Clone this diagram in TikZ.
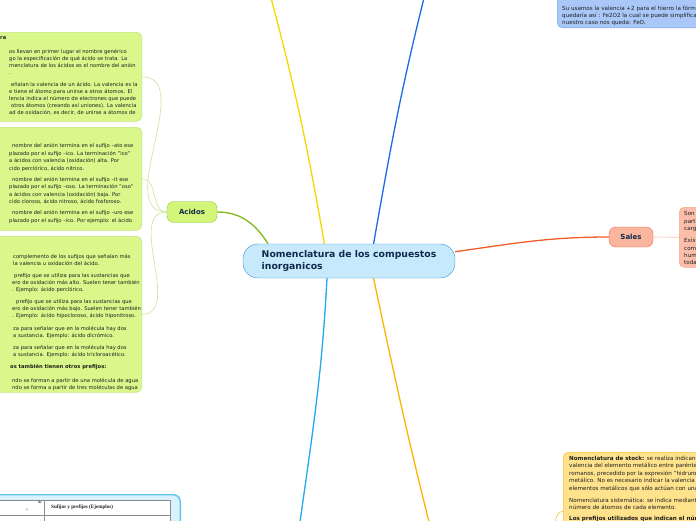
\documentclass[tikz,border=0pt]{standalone}
\usepackage{fontspec}
\setmainfont{DejaVu Sans}
\newfontfamily\tabfont{Liberation Serif}
\usetikzlibrary{positioning,backgrounds,calc}

\begin{document}
\begin{tikzpicture}[x=1pt,y=1pt,line join=round,
  topic/.style={draw,rounded corners=7pt,inner sep=0pt,text=navyc,font=\fontsize{7}{8}\selectfont\bfseries},
  note/.style={draw,rounded corners=5pt,inner sep=0pt,line width=0.6pt},
  body/.style={anchor=base west,inner sep=0pt,text=txtc,font=\fontsize{5.2}{6}\selectfont},
  rbody/.style={body,font=\fontsize{5.6}{6}\selectfont},
  wire/.style={line width=1.3pt},
  twig/.style={line width=0.6pt}]
\definecolor{cntfill}{RGB}{198,234,252}\definecolor{cntline}{RGB}{60,145,214}
\definecolor{acfill}{RGB}{210,245,122}\definecolor{acline}{RGB}{142,198,63}
\definecolor{grfill}{RGB}{217,247,138}\definecolor{grline}{RGB}{196,231,124}
\definecolor{acwire}{RGB}{128,185,24}\definecolor{grtwig}{RGB}{200,227,154}
\definecolor{safill}{RGB}{249,181,157}\definecolor{saline}{RGB}{239,108,72}
\definecolor{sawire}{RGB}{241,90,41}
\definecolor{slfill}{RGB}{251,191,169}\definecolor{slline}{RGB}{247,166,140}
\definecolor{upyel}{RGB}{244,216,0}\definecolor{upblue}{RGB}{29,106,229}
\definecolor{dncyan}{RGB}{34,168,236}\definecolor{dnamber}{RGB}{255,179,0}
\definecolor{blfill}{RGB}{169,200,247}\definecolor{blline}{RGB}{126,169,239}
\definecolor{amfill}{RGB}{255,226,140}\definecolor{amline}{RGB}{249,194,60}
\definecolor{tbfill}{RGB}{217,242,253}\definecolor{tbline}{RGB}{94,196,242}
\definecolor{navyc}{RGB}{16,42,76}\definecolor{txtc}{RGB}{30,30,30}
\useasboundingbox (0,0) rectangle (696,-520);
\clip (0,0) rectangle (696,-520);
% central topic, the two branch topics
\node[topic,fill=cntfill,draw=cntline,minimum width=212pt,minimum height=34pt,rounded corners=15pt,
  align=left,font=\fontsize{9.3}{11.6}\selectfont\bfseries] (cnt) at (349,-261)
  {Nomenclatura de los compuestos\\inorganicos};
\node[topic,fill=acfill,draw=acline,minimum width=50pt,minimum height=21pt] (acidos) at (192,-212) {Acidos};
\node[topic,fill=safill,draw=saline,minimum width=44pt,minimum height=20pt] (sales) at (631,-237) {Sales};
% notes, cut by the page edge
\node[note,fill=grfill,draw=grline,anchor=north east,minimum width=180pt,minimum height=89pt] (acA) at (142,-32) {};
\node[note,fill=grfill,draw=grline,anchor=north east,minimum width=180pt,minimum height=103pt] (acB) at (142,-127) {};
\node[note,fill=grfill,draw=grline,anchor=north east,minimum width=180pt,minimum height=156pt] (acC) at (142,-236) {};
\node[note,fill=slfill,draw=slline,anchor=north west,minimum width=60pt,minimum height=60pt] (salT) at (679,-207) {};
\node[note,fill=blfill,draw=blline,anchor=south west,minimum width=200pt,minimum height=50pt] (feo) at (557,-28) {};
\node[note,fill=amfill,draw=amline,anchor=north west,minimum width=200pt,minimum height=118pt] (stock) at (563,-452) {};
\node[note,fill=tbfill,draw=tbline,line width=1.4pt,rounded corners=7pt,anchor=north east,
  minimum width=220pt,minimum height=60pt] (tabla) at (181,-494) {};
% free ends of the branches that leave the page
\coordinate (upY) at (271,2); \coordinate (upB) at (424,2);
\coordinate (dnC) at (300,-522); \coordinate (dnA) at (429,-522);
\coordinate (stk) at (555,-522);
\begin{scope}[on background layer]
\draw[wire,draw=acwire] (acidos.east) to[out=0,in=122] (cnt.168);
\draw[wire,draw=sawire] (cnt.5) to[out=8,in=180] (sales.west);
\draw[wire,draw=upyel] (cnt.145) to[out=100,in=-75] (upY);
\draw[wire,draw=upblue] (cnt.35) to[out=80,in=-104] (upB);
\draw[wire,draw=dncyan] (cnt.218) to[out=-93,in=82] (dnC);
\draw[wire,draw=dnamber] (cnt.325) to[out=-78,in=104] (dnA);
\foreach \b in {acA,acB,acC}{\draw[twig,draw=grtwig] (acidos.west) to[out=180,in=0] (\b.east);}
\draw[twig,draw=slline!70] (sales.east) -- (salT.west);
\draw[twig,draw=amline] (stk) to[out=75,in=180] (stock.west);
\end{scope}
% texts of the green notes
\foreach \x/\y/\t [count=\i] in {0/39.5/{\textbf{ra}},
  9/53.5/{os llevan en primer lugar el nombre genérico},
  9/60.5/{go la especificación de qué ácido se trata. La},
  9/67.5/{menclatura de los ácidos es el nombre del anión},
  9/74.5/{.},
  11/86.5/{eñalan la valencia de un ácido. La valencia es la},
  9/93.5/{e tiene el átomo para unirse a otros átomos. El},
  9/100.5/{lencia indica el número de electrones que puede},
  11/107.5/{otros átomos (creando así uniones). La valencia},
  9/114.5/{ad de oxidación, es decir, de unirse a átomos de}}
  {\node[body] (acA-\i) at (\x,-\y) {\t};}
\foreach \x/\y/\t [count=\i] in {12/147.5/{nombre del anión termina en el sufijo –ato ese},
  9/155/{plazado por el sufijo –ico. La terminación "ico"},
  9/162.5/{a ácidos con valencia (oxidación) alta. Por},
  9/170/{cido perclórico, ácido nítrico.},
  12/181/{nombre del anión termina en el sufijo –it ese},
  9/188.5/{plazado por el sufijo –oso. La terminación "oso"},
  9/196/{a ácidos con valencia (oxidación) baja. Por},
  9/203.5/{cido cloroso, ácido nitroso, ácido fosforoso.},
  12/214.5/{nombre del anión termina en el sufijo –uro ese},
  9/222/{plazado por el sufijo –ico. Por ejemplo: el ácido}}
  {\node[body] (acB-\i) at (\x,-\y) {\t};}
\foreach \x/\y/\t [count=\i] in {13/258.5/{complemento de los sufijos que señalan más},
  13/265.5/{la valencia u oxidación del ácido.},
  14/277.5/{prefijo que se utiliza para las sustancias que},
  12/284.5/{ero de oxidación más alto. Suelen tener también},
  12/291.5/{. Ejemplo: ácido perclórico.},
  16/303.5/{prefijo que se utiliza para las sustancias que},
  12/310.5/{ero de oxidación más bajo. Suelen tener también},
  12/317.5/{. Ejemplo: ácido hipocloroso, ácido hiponitroso.},
  13/330.5/{za para señalar que en la molécula hay dos},
  13/337.5/{a sustancia. Ejemplo: ácido dicrómico.},
  13/349.5/{za para señalar que en la molécula hay dos},
  13/356.5/{a sustancia. Ejemplo: ácido tricloroacético.},
  10/368.5/{\textbf{os también tienen otros prefijos:}},
  12/382.5/{ndo se forman a partir de una molécula de agua},
  12/389.5/{ndo se forma a partir de tres moléculas de agua}}
  {\node[body] (acC-\i) at (\x,-\y) {\t};}
% right hand notes
\foreach \y/\t [count=\i] in {215.5/Son, 223.5/partí, 230.5/carg, 242.5/Exist, 250.5/comp, 257.5/hum, 264.5/toda}
  {\node[rbody] (salT-\i) at (684,-\y) {\t};}
\foreach \y/\t [count=\i] in {10.5/{Su usamos la valencia +2 para el hierro la fórmu},
  17.5/{quedaría así : Fe2O2 la cual se puede simplifica},
  24.5/{nuestro caso nos queda: FeO.}}
  {\node[rbody] (feo-\i) at (562,-\y) {\t};}
\foreach \y/\t [count=\i] in {460/{\textbf{Nomenclatura de stock:} se realiza indicando},
  467.5/{valencia del elemento metálico entre parénte},
  475/{romanos, precedido por la expresión "hidruro},
  482.5/{metálico. No es necesario indicar la valencia d},
  490/{elementos metálicos que sólo actúan con una.},
  502/{Nomenclatura sistemática: se indica mediante},
  509.5/{número de átomos de cada elemento.},
  520.5/{\textbf{Los prefijos utilizados que indican el núm}}}
  {\node[rbody] (stock-\i) at (569,-\y) {\t};}
% the table inside the blue note
\draw[black!45,line width=0.4pt,fill=white] (-5,-500) rectangle (170,-530);
\draw[black!45,line width=0.4pt] (-5,-515) -- (170,-515) (44,-500) -- (44,-530);
\node[body,font=\tabfont\fontsize{5.1}{6}\selectfont\bfseries] (tabH) at (51,-508.5) {Sufijos y prefijos (Ejemplos)};
\node[body,font=\tabfont\fontsize{3.4}{4}\selectfont\bfseries] (tabL) at (38,-503.5) {de};
\node[body,font=\tabfont\fontsize{3.4}{4}\selectfont] (tabS) at (26,-510) {s,};
\end{tikzpicture}
\end{document}
